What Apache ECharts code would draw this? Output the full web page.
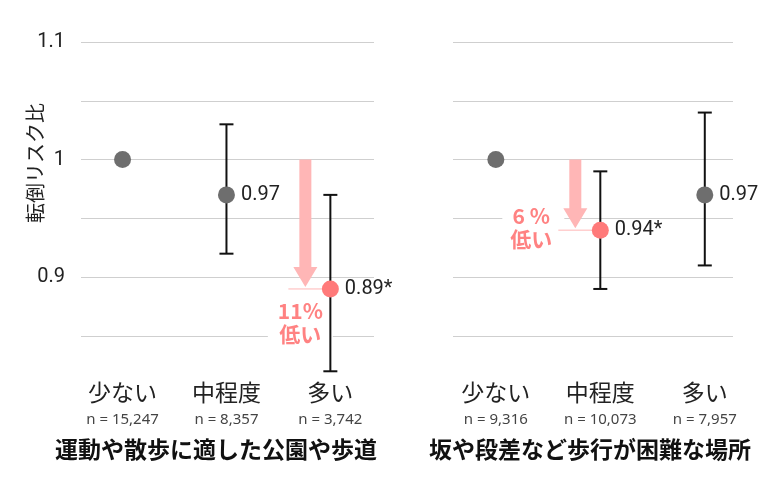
<!DOCTYPE html>
<html>
<head>
<meta charset="utf-8">
<script src="https://cdn.jsdelivr.net/npm/echarts@6/dist/echarts.min.js"></script>
<style>html,body{margin:0;background:#fff}#main{width:780px;height:494px}</style>
</head>
<body>
<div id="main"></div>
<script>
const categories = ['少ない', '中程度', '多い'];
const yTicks = [0.9, 1, 1.1];
const yName = '転倒リスク比';

const parkTitle = '運動や散歩に適した公園や歩道';
const parkN = ['15,247', '8,357', '3,742'];
const parkRatio = [1, 0.97, 0.89];
const parkLow = [null, 0.92, 0.82];
const parkHigh = [null, 1.03, 0.97];
const parkSig = [false, false, true];
const parkDrop = '11%\n低い';

const slopeTitle = '坂や段差など歩行が困難な場所';
const slopeN = ['9,316', '10,073', '7,957'];
const slopeRatio = [1, 0.94, 0.97];
const slopeLow = [null, 0.89, 0.91];
const slopeHigh = [null, 0.99, 1.04];
const slopeSig = [false, true, false];
const slopeDrop = '6 %\n低い';

const GRAY = '#6e6e6e';
const PINK = '#ff7a7a';
const ARROW = '#ffb6b6';
const JP = '"Noto Sans CJK JP", sans-serif';

const chart = echarts.init(document.getElementById('main'));

// text offsets of the "xx% 低い" note, relative to the highlighted point
const panels = [
  { title: parkTitle, titleX: 216, n: parkN, ratio: parkRatio, low: parkLow, high: parkHigh, sig: parkSig,
    drop: parkDrop, grid: { left: 81, right: 406 }, xMin: -0.4, xMax: 2.42, textDx: -30, textDy: 34, pad: [3, 10, 3, 10] },
  { title: slopeTitle, titleX: 590, n: slopeN, ratio: slopeRatio, low: slopeLow, high: slopeHigh, sig: slopeSig,
    drop: slopeDrop, grid: { left: 453, right: 47 }, xMin: -0.41, xMax: 2.27, textDx: -67, textDy: -3, pad: [3, 12, 3, 8] }
];

const grids = [];
const xAxes = [];
const yAxes = [];
const series = [];
const graphics = [];

panels.forEach((p, k) => {
  grids.push({ left: p.grid.left, right: p.grid.right, top: 42, bottom: 99.2, outerBoundsMode: 'none' });
  xAxes.push({
    gridIndex: k, type: 'value', min: p.xMin, max: p.xMax,
    axisLine: { show: false }, axisTick: { show: false }, splitLine: { show: false },
    axisLabel: {
      customValues: [0, 1, 2], margin: -19,
      formatter: (v) => `{a|${categories[Math.round(v)]}}\n{b|n = ${p.n[Math.round(v)]}}`,
      rich: {
        a: { fontSize: 23, color: '#222', fontFamily: JP, lineHeight: 32 },
        b: { fontSize: 15, color: '#444', fontFamily: '"Noto Sans", sans-serif', lineHeight: 24 }
      }
    }
  });
  yAxes.push({
    gridIndex: k, type: 'value', min: 0.8, max: 1.1, interval: 0.05,
    axisLine: { show: false }, axisTick: { show: false },
    splitLine: { show: true, showMinLine: false, lineStyle: { color: '#cfcfcf', width: 1 } },
    axisLabel: {
      show: k === 0, margin: 16, fontSize: 20, color: '#222', fontFamily: 'Roboto, sans-serif',
      formatter: (v) => (yTicks.some((t) => Math.abs(t - v) < 1e-6) ? String(+v.toFixed(2)) : '')
    }
  });

  const si = p.sig.indexOf(true);
  series.push({
    type: 'custom', xAxisIndex: k, yAxisIndex: k, z: 1,
    data: [[si, p.ratio[0], p.ratio[si]]],
    renderItem: (params, api) => {
      const end = api.coord([api.value(0), api.value(2)]);
      const start = api.coord([api.value(0), api.value(1)]);
      const cx = end[0] - 25;
      const tip = end[1] - 2;
      const head = tip - 20;
      return {
        type: 'group',
        children: [
          { type: 'text', x: end[0] + p.textDx, y: end[1] + p.textDy,
            style: { text: p.drop, fill: '#ff8282', font: 'bold 21px ' + JP, align: 'center', verticalAlign: 'middle',
              lineHeight: 23, backgroundColor: '#fff', padding: p.pad } },
          { type: 'line', shape: { x1: end[0] - 42, y1: end[1], x2: end[0], y2: end[1] },
            style: { stroke: ARROW, lineWidth: 1 } },
          { type: 'polygon', shape: { points: [
              [cx - 6, start[1]], [cx + 6, start[1]], [cx + 6, head], [cx + 12, head],
              [cx, tip], [cx - 12, head], [cx - 6, head]] },
            style: { fill: ARROW } }
        ]
      };
    }
  });

  series.push({
    type: 'custom', xAxisIndex: k, yAxisIndex: k, z: 2,
    data: p.low.map((lo, i) => (lo == null ? null : [i, lo, p.high[i]])).filter((d) => d),
    renderItem: (params, api) => {
      const top = api.coord([api.value(0), api.value(2)]);
      const bot = api.coord([api.value(0), api.value(1)]);
      const st = { stroke: '#111', lineWidth: 2 };
      return {
        type: 'group',
        children: [
          { type: 'line', shape: { x1: top[0], y1: top[1], x2: bot[0], y2: bot[1] }, style: st },
          { type: 'line', shape: { x1: top[0] - 7, y1: top[1], x2: top[0] + 7, y2: top[1] }, style: st },
          { type: 'line', shape: { x1: bot[0] - 7, y1: bot[1], x2: bot[0] + 7, y2: bot[1] }, style: st }
        ]
      };
    }
  });

  series.push({
    type: 'scatter', xAxisIndex: k, yAxisIndex: k, z: 3, symbolSize: 17,
    data: p.ratio.map((v, i) => ({
      value: [i, v],
      itemStyle: { color: p.sig[i] ? PINK : GRAY, opacity: 1 },
      label: { show: i > 0, formatter: v.toFixed(2) + (p.sig[i] ? '*' : '') }
    })),
    label: { position: 'right', distance: 6, fontSize: 20, color: '#222', fontFamily: 'Roboto, sans-serif' }
  });

  graphics.push({ type: 'text', x: p.titleX, y: 449,
    style: { text: p.title, font: 'bold 23px ' + JP, fill: '#111', align: 'center', verticalAlign: 'middle' } });
});

graphics.push({ type: 'text', x: 35, y: 163, rotation: Math.PI / 2,
  style: { text: yName, font: '20px ' + JP, fill: '#222', align: 'center', verticalAlign: 'middle' } });

chart.setOption({
  animation: false,
  backgroundColor: '#fff',
  grid: grids,
  xAxis: xAxes,
  yAxis: yAxes,
  series: series,
  graphic: graphics
});
</script>
</body>
</html>
